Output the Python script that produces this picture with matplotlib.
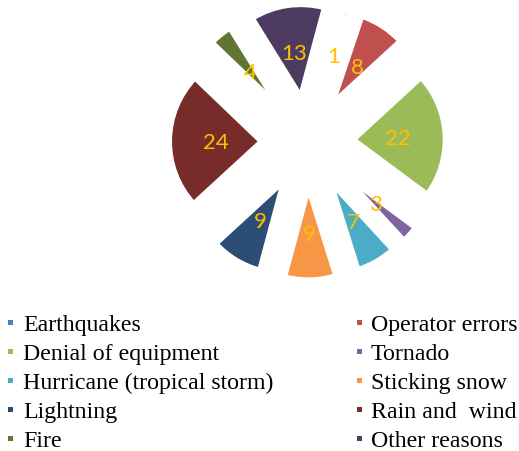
import matplotlib
matplotlib.use("Agg")
import matplotlib.pyplot as plt
from matplotlib.patches import Rectangle

categories = ["Earthquakes", "Operator errors", "Denial of equipment", "Tornado",
              "Hurricane (tropical storm)", "Sticking snow", "Lightning",
              "Rain and  wind", "Fire", "Other reasons"]
values = [1, 8, 22, 3, 7, 9, 9, 24, 4, 13]
colors = ["#4F81BD", "#C0504D", "#9BBB59", "#8064A2", "#4BACC6",
          "#F79646", "#2C4D75", "#772C2A", "#5F7530", "#4D3B62"]

W, H = 519, 451
fig = plt.figure(figsize=(W / 100, H / 100), dpi=100)

# pie axes: 1 data unit = pie radius (92 px), centre at (307.4, 142) px
R = 92.0
cx, cy = 307.4, 142.0
ax = fig.add_axes([0, 0, 1, 1])
total = sum(values)
wedges, texts, autotexts = ax.pie(
    values, colors=colors, startangle=75, counterclock=False,
    explode=[0.5] * len(values), radius=1.0,
    wedgeprops=dict(edgecolor="white", linewidth=3.8),
    autopct=lambda p: f"{p * total / 100:.0f}", pctdistance=0.49,
    textprops=dict(color="#FFC000", fontsize=16, family=["Lato", "DejaVu Sans"]))
for t in autotexts:
    t.set_va("center_baseline")
ax.set_aspect("auto")
ax.set_xlim(-cx / R, (W - cx) / R)
ax.set_ylim((cy - H) / R, cy / R)
ax.axis("off")

# legend drawn in pixel coordinates
lax = fig.add_axes([0, 0, 1, 1])
lax.set_xlim(0, W)
lax.set_ylim(H, 0)
lax.axis("off")
base0, step = 330.7, 29.0
for i, (lab, col) in enumerate(zip(categories, colors)):
    row, c = divmod(i, 2)
    mx = 10.5 if c == 0 else 359.5
    tx = 23 if c == 0 else 371
    base = base0 + row * step
    lax.add_patch(Rectangle((mx - 2.6, base - 10.6), 5.2, 5.2, facecolor=col,
                            edgecolor="none"))
    lax.text(tx, base, lab, fontsize=17.2, family="Liberation Serif",
             va="baseline", ha="left", color="black")

fig.savefig("out.png", dpi=100)
